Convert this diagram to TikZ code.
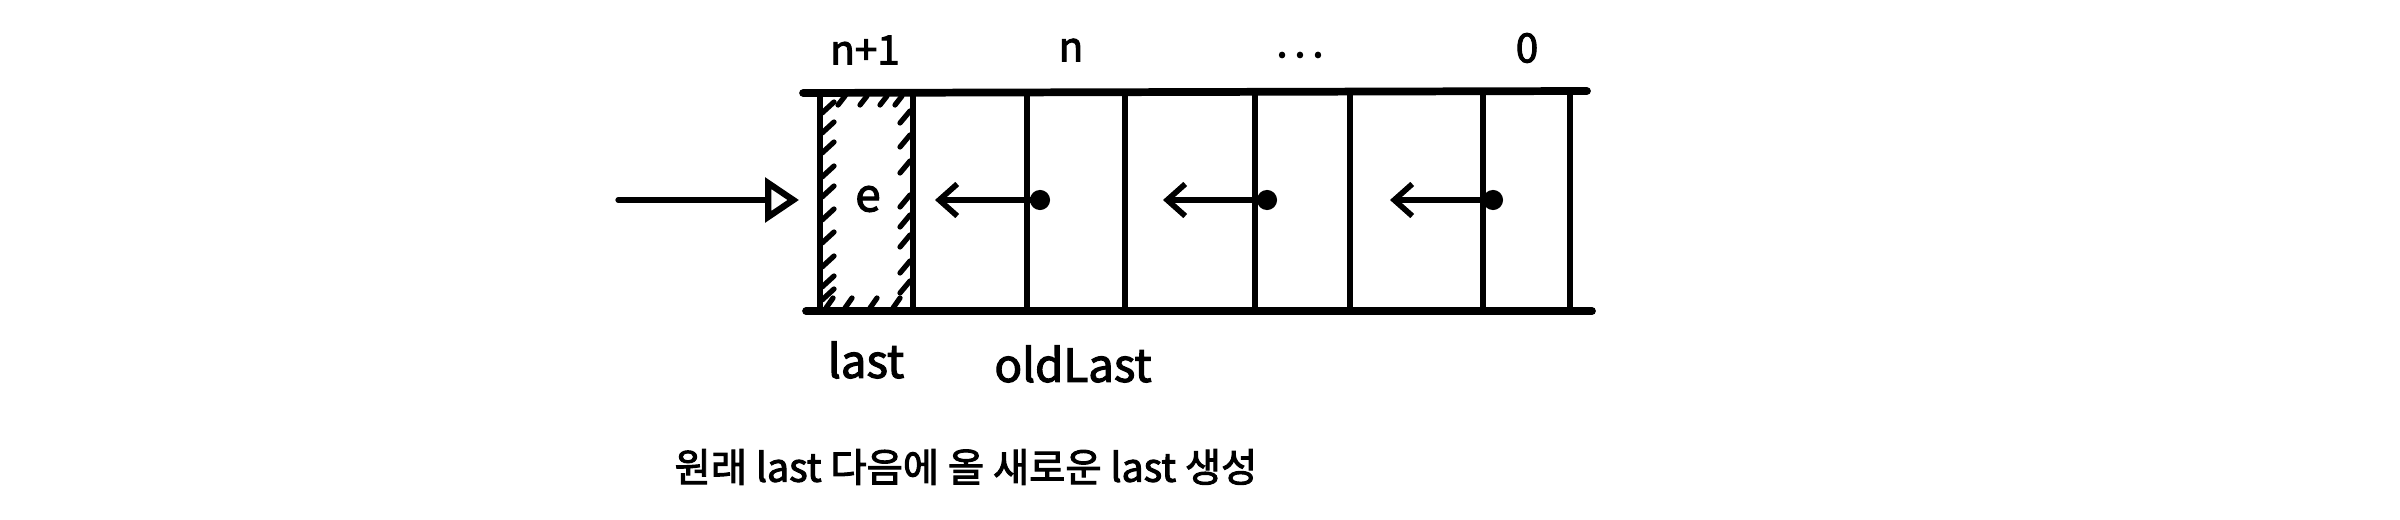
\documentclass[tikz,border=0pt]{standalone}
\usepackage{fontspec}
\setmainfont{Noto Sans CJK KR}
\newfontfamily\handfont{Noto Sans CJK KR}[FakeBold=2.5]
\usetikzlibrary{arrows.meta}

\tikzset{
	rail/.style={line width=2.2pt, line cap=round},
	wall/.style={line width=1.8pt, line cap=round},
	hatch/.style={line width=1.5pt, line cap=round},
	feed/.style={line width=1.5pt, line cap=round, -{Triangle[open, length=3.4mm, width=4.4mm, line width=1.8pt]}},
	link/.style={line width=1.6pt, {Circle[length=2mm]}-{Straight Barb[length=1.8mm, width=3.2mm]}},
	lbl/.style={font=\handfont\fontsize{13}{15}\selectfont, inner sep=0pt},
	idx/.style={font=\handfont\fontsize{11.5}{14}\selectfont, inner sep=0pt},
}

\begin{document}
	\begin{tikzpicture}[y=-1cm]
		\useasboundingbox (0,0) rectangle (24,5.2);
		%
		% rails
		\coordinate (topL) at (8.03,0.93);
		\coordinate (topR) at (15.87,0.91);
		\coordinate (botL) at (8.06,3.11);
		\coordinate (botR) at (15.92,3.11);
		\draw[rail] (topL) -- (topR);
		\draw[rail] (botL) -- (botR);
		%
		% cell walls
		\foreach \x in {8.2,9.13,10.27,11.25,12.55,13.5,14.83,15.7}{
			\draw[wall] (\x,0.93) -- (\x,3.11);
		}
		%
		% hatched new cell
		\foreach \y in {1.13,1.33,1.53,1.77,1.97,2.2,2.43,2.67,2.87,3.0}{
			\draw[hatch] (8.22,\y) -- (8.34,\y-0.11);
		}
		\foreach \y in {1.23,1.47,1.73,2.07,2.27,2.47,2.73,2.93}{
			\draw[hatch] (9.0,\y) -- (9.1,\y-0.12);
		}
		\foreach \x in {8.38,8.6,8.8,8.95}{
			\draw[hatch] (\x,1.05) -- (\x+0.07,0.96);
		}
		\foreach \x in {8.26,8.45,8.7,8.93}{
			\draw[hatch] (\x,3.08) -- (\x+0.07,2.98);
		}
		\node[lbl] (elem) at (8.68,1.99) {e};
		%
		% incoming element
		\coordinate (feedStart) at (6.18,2.0);
		\coordinate (feedEnd) at (7.99,2.0);
		\draw[feed] (feedStart) -- (feedEnd);
		%
		% next links
		\coordinate (dotA) at (10.5,2.0);
		\coordinate (tipA) at (9.35,2.0);
		\coordinate (dotB) at (12.77,2.0);
		\coordinate (tipB) at (11.63,2.0);
		\coordinate (dotC) at (15.03,2.0);
		\coordinate (tipC) at (13.9,2.0);
		\draw[link] (dotA) -- (tipA);
		\draw[link] (dotB) -- (tipB);
		\draw[link] (dotC) -- (tipC);
		%
		% index labels
		\node[idx] (idxNext) at (8.65,0.5) {n+1};
		\node[idx] (idxN) at (10.71,0.5) {n};
		\node[idx] (idxDots) at (13.0,0.55) {.\,.\,.};
		\node[idx] (idxZero) at (15.27,0.48) {0};
		%
		\node[lbl] (lblLast) at (8.66,3.6) {last};
		\node[lbl] (lblOldLast) at (10.73,3.64) {oldLast};
		%
		\node[lbl, font=\handfont\fontsize{11.2}{14}\selectfont] (caption) at (9.66,4.67) {원래 last 다음에 올 새로운 last 생성};
	\end{tikzpicture}
\end{document}
